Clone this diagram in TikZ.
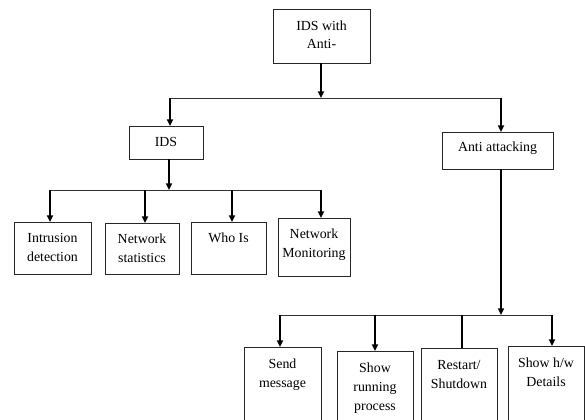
\documentclass[tikz,border=0pt]{standalone}
\usepackage{fontspec}
\setmainfont{Liberation Serif}
\usetikzlibrary{arrows.meta}
\begin{document}
\begin{tikzpicture}[x=0.75pt,y=-0.75pt,
  box/.style={draw=black!85, line width=0.6pt, inner sep=0pt, outer sep=0pt},
  lbl/.style={anchor=north, align=center, inner sep=0pt, font=\fontsize{10.4}{14}\selectfont},
  arr/.style={line width=1.3pt, -{Triangle[length=5pt,width=4.5pt]}},
  vline/.style={line width=1.3pt},
  hline/.style={line width=0.7pt, draw=black!80}]
\clip (0,0) rectangle (585,420);
% boxes
\node[box, minimum width=72.75pt, minimum height=40.5pt] (top) at (321.5,36) {};
\node[box, minimum width=55.5pt, minimum height=24.75pt] (ids) at (166,142.5) {};
\node[box, minimum width=83.25pt, minimum height=27.75pt] (anti) at (497.5,150.5) {};
\node[box, minimum width=57.75pt, minimum height=39pt] (b1) at (52.5,248) {};
\node[box, minimum width=55.5pt, minimum height=38.25pt] (b2) at (142,248.5) {};
\node[box, minimum width=56.25pt, minimum height=39pt] (b3) at (228.5,248) {};
\node[box, minimum width=54pt, minimum height=43.5pt] (b4) at (314,247) {};
\node[box, minimum width=57.75pt, minimum height=58.5pt] (c1) at (282.5,386) {};
\node[box, minimum width=57pt, minimum height=55.5pt] (c2) at (375,388) {};
\node[box, minimum width=57pt, minimum height=57.75pt] (c3) at (459,386.5) {};
\node[box, minimum width=57pt, minimum height=59.25pt] (c4) at (546,385.5) {};
% labels
\node[lbl] (ttop) at ([yshift=-8.5pt]top.north) {IDS with\\Anti-};
\node[lbl] (tids) at ([yshift=-8.5pt]ids.north) {IDS};
\node[lbl] (tanti) at ([yshift=-7.5pt]anti.north) {Anti attacking};
\node[lbl] (tb1) at ([yshift=-8.25pt]b1.north) {Intrusion\\detection};
\node[lbl] (tb2) at ([yshift=-8.25pt]b2.north) {Network\\statistics};
\node[lbl] (tb3) at ([yshift=-8.25pt]b3.north) {Who Is};
\node[lbl] (tb4) at ([yshift=-8.25pt]b4.north) {Network\\Monitoring};
\node[lbl] (tc1) at ([yshift=-9pt]c1.north) {Send\\message};
\node[lbl] (tc2) at ([yshift=-9pt]c2.north) {Show\\running\\process};
\node[lbl] (tc3) at ([yshift=-9pt]c3.north) {Restart/\\Shutdown};
\node[lbl] (tc4) at ([yshift=-9pt]c4.north) {Show h/w\\Details};
% junction coordinates
\coordinate (j0) at (321,98);
\coordinate (hL) at (170,98);
\coordinate (hR) at (501,98);
\coordinate (j1) at (169,190);
\coordinate (k1) at (50,190);
\coordinate (k2) at (145,190);
\coordinate (k3) at (232,190);
\coordinate (k4) at (321,190);
\coordinate (j2) at (501,315);
\coordinate (m1) at (280,315);
\coordinate (m2) at (375,315);
\coordinate (m3) at (462,315);
\coordinate (m4) at (552,315);
% horizontal lines
\draw[hline] (hL) -- (hR);
\draw[hline] (k1) -- (k4);
\draw[hline] (m1) -- (m4);
% arrows
\draw[arr] (top.south -| j0) -- (j0);
\draw[arr] (hL) -- (hL |- ids.north);
\draw[arr] (hR) -- (hR |- anti.north);
\draw[arr] (ids.south -| j1) -- (j1);
\draw[arr] (k1) -- (k1 |- b1.north);
\draw[arr] (k2) -- (k2 |- b2.north);
\draw[arr] (k3) -- (k3 |- b3.north);
\draw[arr] (k4) -- (k4 |- b4.north);
\draw[arr, line width=1pt] (anti.south -| j2) -- (j2);
\draw[arr] (m1) -- (m1 |- c1.north);
\draw[arr] (m2) -- (m2 |- c2.north);
\draw[vline] (m3) -- (m3 |- c3.north);
\draw[arr] (m4) -- (m4 |- c4.north);
\end{tikzpicture}
\end{document}
